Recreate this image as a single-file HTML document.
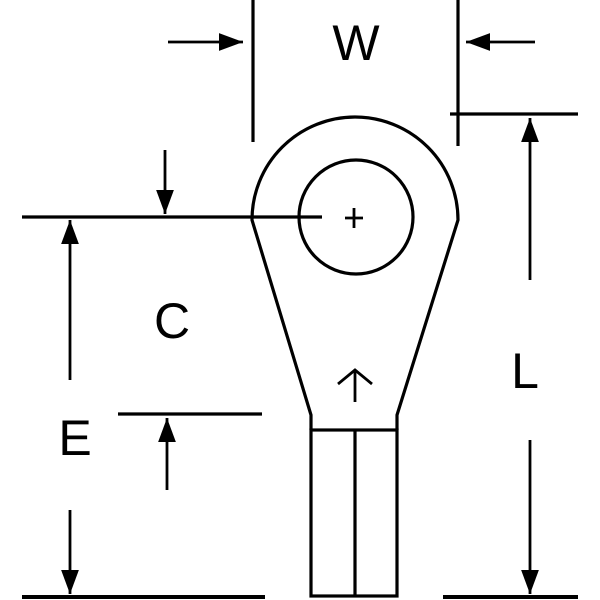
<!DOCTYPE html>
<html><head><style>body{margin:0;background:#fff}svg{display:block}</style></head><body>
<svg width="600" height="600" viewBox="0 0 600 600" xmlns="http://www.w3.org/2000/svg">
<defs>
<marker id="b" viewBox="0 0 10 10" refX="10" refY="5" markerWidth="24" markerHeight="24" markerUnits="userSpaceOnUse" orient="auto"><path d="M0,1.3 L10,5 L0,8.7 z" fill="#000"/></marker></defs>
<g stroke="#000" stroke-width="3.2" fill="none">
<path d="M311,430 L311,415 L252,220 A103,103 0 1 1 458,220 L397,415 L397,430"/>
<circle cx="356" cy="217" r="57"/>
<rect x="311" y="430" width="86" height="166"/>
<line x1="355" y1="430" x2="355" y2="596"/>
<line x1="22" y1="217" x2="322" y2="217"/>
<line x1="345" y1="218" x2="363" y2="218" stroke-width="2.8"/>
<line x1="354" y1="208" x2="354" y2="228" stroke-width="2.8"/>
<line x1="355" y1="402" x2="355" y2="372" stroke-width="2.8"/>
<path d="M338,384 L355,370 L372,384" stroke-width="2.8"/>
<line x1="253" y1="0" x2="253" y2="142"/>
<line x1="458" y1="0" x2="458" y2="146"/>
<line x1="450" y1="114" x2="578" y2="114"/>
<line x1="118" y1="414" x2="262" y2="414"/>
<line x1="22" y1="597" x2="265" y2="597" stroke-width="4"/>
<line x1="443" y1="597" x2="578" y2="597" stroke-width="4"/>
<g stroke-width="2.8">
<line x1="168" y1="42" x2="243" y2="42" marker-end="url(#b)"/>
<line x1="535" y1="42" x2="466" y2="42" marker-end="url(#b)"/>
<line x1="165" y1="150" x2="165" y2="214" marker-end="url(#b)"/>
<line x1="70" y1="380" x2="70" y2="220" marker-end="url(#b)"/>
<line x1="70" y1="510" x2="70" y2="594" marker-end="url(#b)"/>
<line x1="167" y1="490" x2="167" y2="418" marker-end="url(#b)"/>
<line x1="530" y1="280" x2="530" y2="118" marker-end="url(#b)"/>
<line x1="530" y1="440" x2="530" y2="594" marker-end="url(#b)"/>
</g></g>
<g font-family="Liberation Sans, sans-serif" font-size="50" fill="#000" text-anchor="middle">
<text x="356" y="60">W</text>
<text x="172" y="338">C</text>
<text x="75" y="455">E</text>
<text x="525" y="388">L</text>
</g>
</svg>
</body></html>
